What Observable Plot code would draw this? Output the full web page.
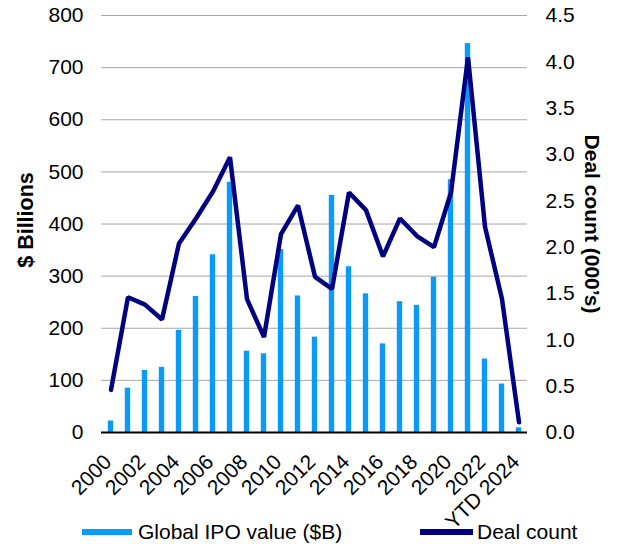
<!DOCTYPE html>
<html>
<head>
<meta charset="utf-8">
<script src="https://cdn.jsdelivr.net/npm/d3@7"></script>
<script src="https://cdn.jsdelivr.net/npm/@observablehq/plot@0.6"></script>
<style>
  html, body { margin: 0; padding: 0; background: #fff; }
  #wrap { position: relative; width: 618px; height: 544px; font-family: "Liberation Sans", Arial, sans-serif; }
  .sw { position: absolute; }
  .lt { position: absolute; font-size: 21px; line-height: 24px; color: #000; white-space: nowrap; }
</style>
</head>
<body>
<div id="wrap"></div>
<script>
const years = ["2000","2001","2002","2003","2004","2005","2006","2007","2008","2009","2010","2011","2012","2013","2014","2015","2016","2017","2018","2019","2020","2021","2022","2023","YTD 2024"];
const ipoValue = [22,85,119,125,196,261,341,480,156,151,351,262,183,455,318,266,170,251,244,298,485,746,141,93,9];
const dealCount = [0.46,1.46,1.38,1.22,2.04,2.31,2.60,2.97,1.44,1.03,2.14,2.45,1.68,1.55,2.59,2.40,1.90,2.31,2.12,2.00,2.59,4.05,2.22,1.44,0.11];
const leftTicks = [0,100,200,300,400,500,600,700,800];
const rightTicks = [0,0.5,1,1.5,2,2.5,3,3.5,4,4.5];
const xTicks = ["2000","2002","2004","2006","2008","2010","2012","2014","2016","2018","2020","2022","YTD 2024"];
const seriesNames = ["Global IPO value ($B)", "Deal count"];
const barColor = "#0a9bf7";
const lineColor = "#000080";

const k = 800 / 4.5;
const data = years.map((y, i) => ({year: y, value: ipoValue[i], count: dealCount[i]}));

const chart = Plot.plot({
  width: 618,
  height: 505,
  marginTop: 15,
  marginBottom: 73,
  marginLeft: 101,
  marginRight: 91,
  style: {fontFamily: "'Liberation Sans', Arial, sans-serif", fontSize: "21px", color: "#000", background: "#fff", overflow: "visible"},
  x: {type: "band", domain: years, padding: 0, label: null},
  y: {domain: [0, 800], label: null},
  marks: [
    Plot.gridY(leftTicks, {stroke: "#a6a6a6", strokeOpacity: 1, strokeWidth: 1}),
    Plot.barY(data, {x: "year", y: "value", fill: barColor, insetLeft: 5.8, insetRight: 5.8}),
    Plot.ruleY([0], {stroke: "#000", strokeWidth: 2}),
    Plot.lineY(data, {x: "year", y: d => d.count * k, stroke: lineColor, strokeWidth: 4.5, strokeLinejoin: "miter"}),
    Plot.axisY(leftTicks, {anchor: "left", tickSize: 0, tickPadding: 18, label: null}),
    Plot.axisY(rightTicks.map(v => v * k), {anchor: "right", tickSize: 0, tickPadding: 18, tickFormat: d => (d / k).toFixed(1), label: null}),
    Plot.axisX(xTicks, {tickSize: 0, tickRotate: -45, tickPadding: 17, dx: -3, dy: 9, label: null}),
    Plot.text(["$ Billions"], {text: d => d, frameAnchor: "left", textAnchor: "middle", dx: -75, dy: -4, rotate: -90, fontWeight: "bold", fontSize: 21.5}),
    Plot.text(["Deal count (000’s)"], {text: d => d, frameAnchor: "right", textAnchor: "middle", dx: 64, rotate: 90, fontWeight: "bold"})
  ]
});

const wrap = document.getElementById("wrap");
wrap.appendChild(chart);

function addSwatch(left, width, color) {
  const s = document.createElement("div");
  s.className = "sw";
  s.style.left = left + "px"; s.style.top = "529px";
  s.style.width = width + "px"; s.style.height = "6px";
  s.style.background = color;
  wrap.appendChild(s);
}
function addText(left, txt) {
  const t = document.createElement("div");
  t.className = "lt";
  t.style.left = left + "px"; t.style.top = "520px";
  t.textContent = txt;
  wrap.appendChild(t);
}
addSwatch(82, 50, barColor);
addText(138, seriesNames[0]);
addSwatch(420, 53, lineColor);
addText(477, seriesNames[1]);
</script>
</body>
</html>
